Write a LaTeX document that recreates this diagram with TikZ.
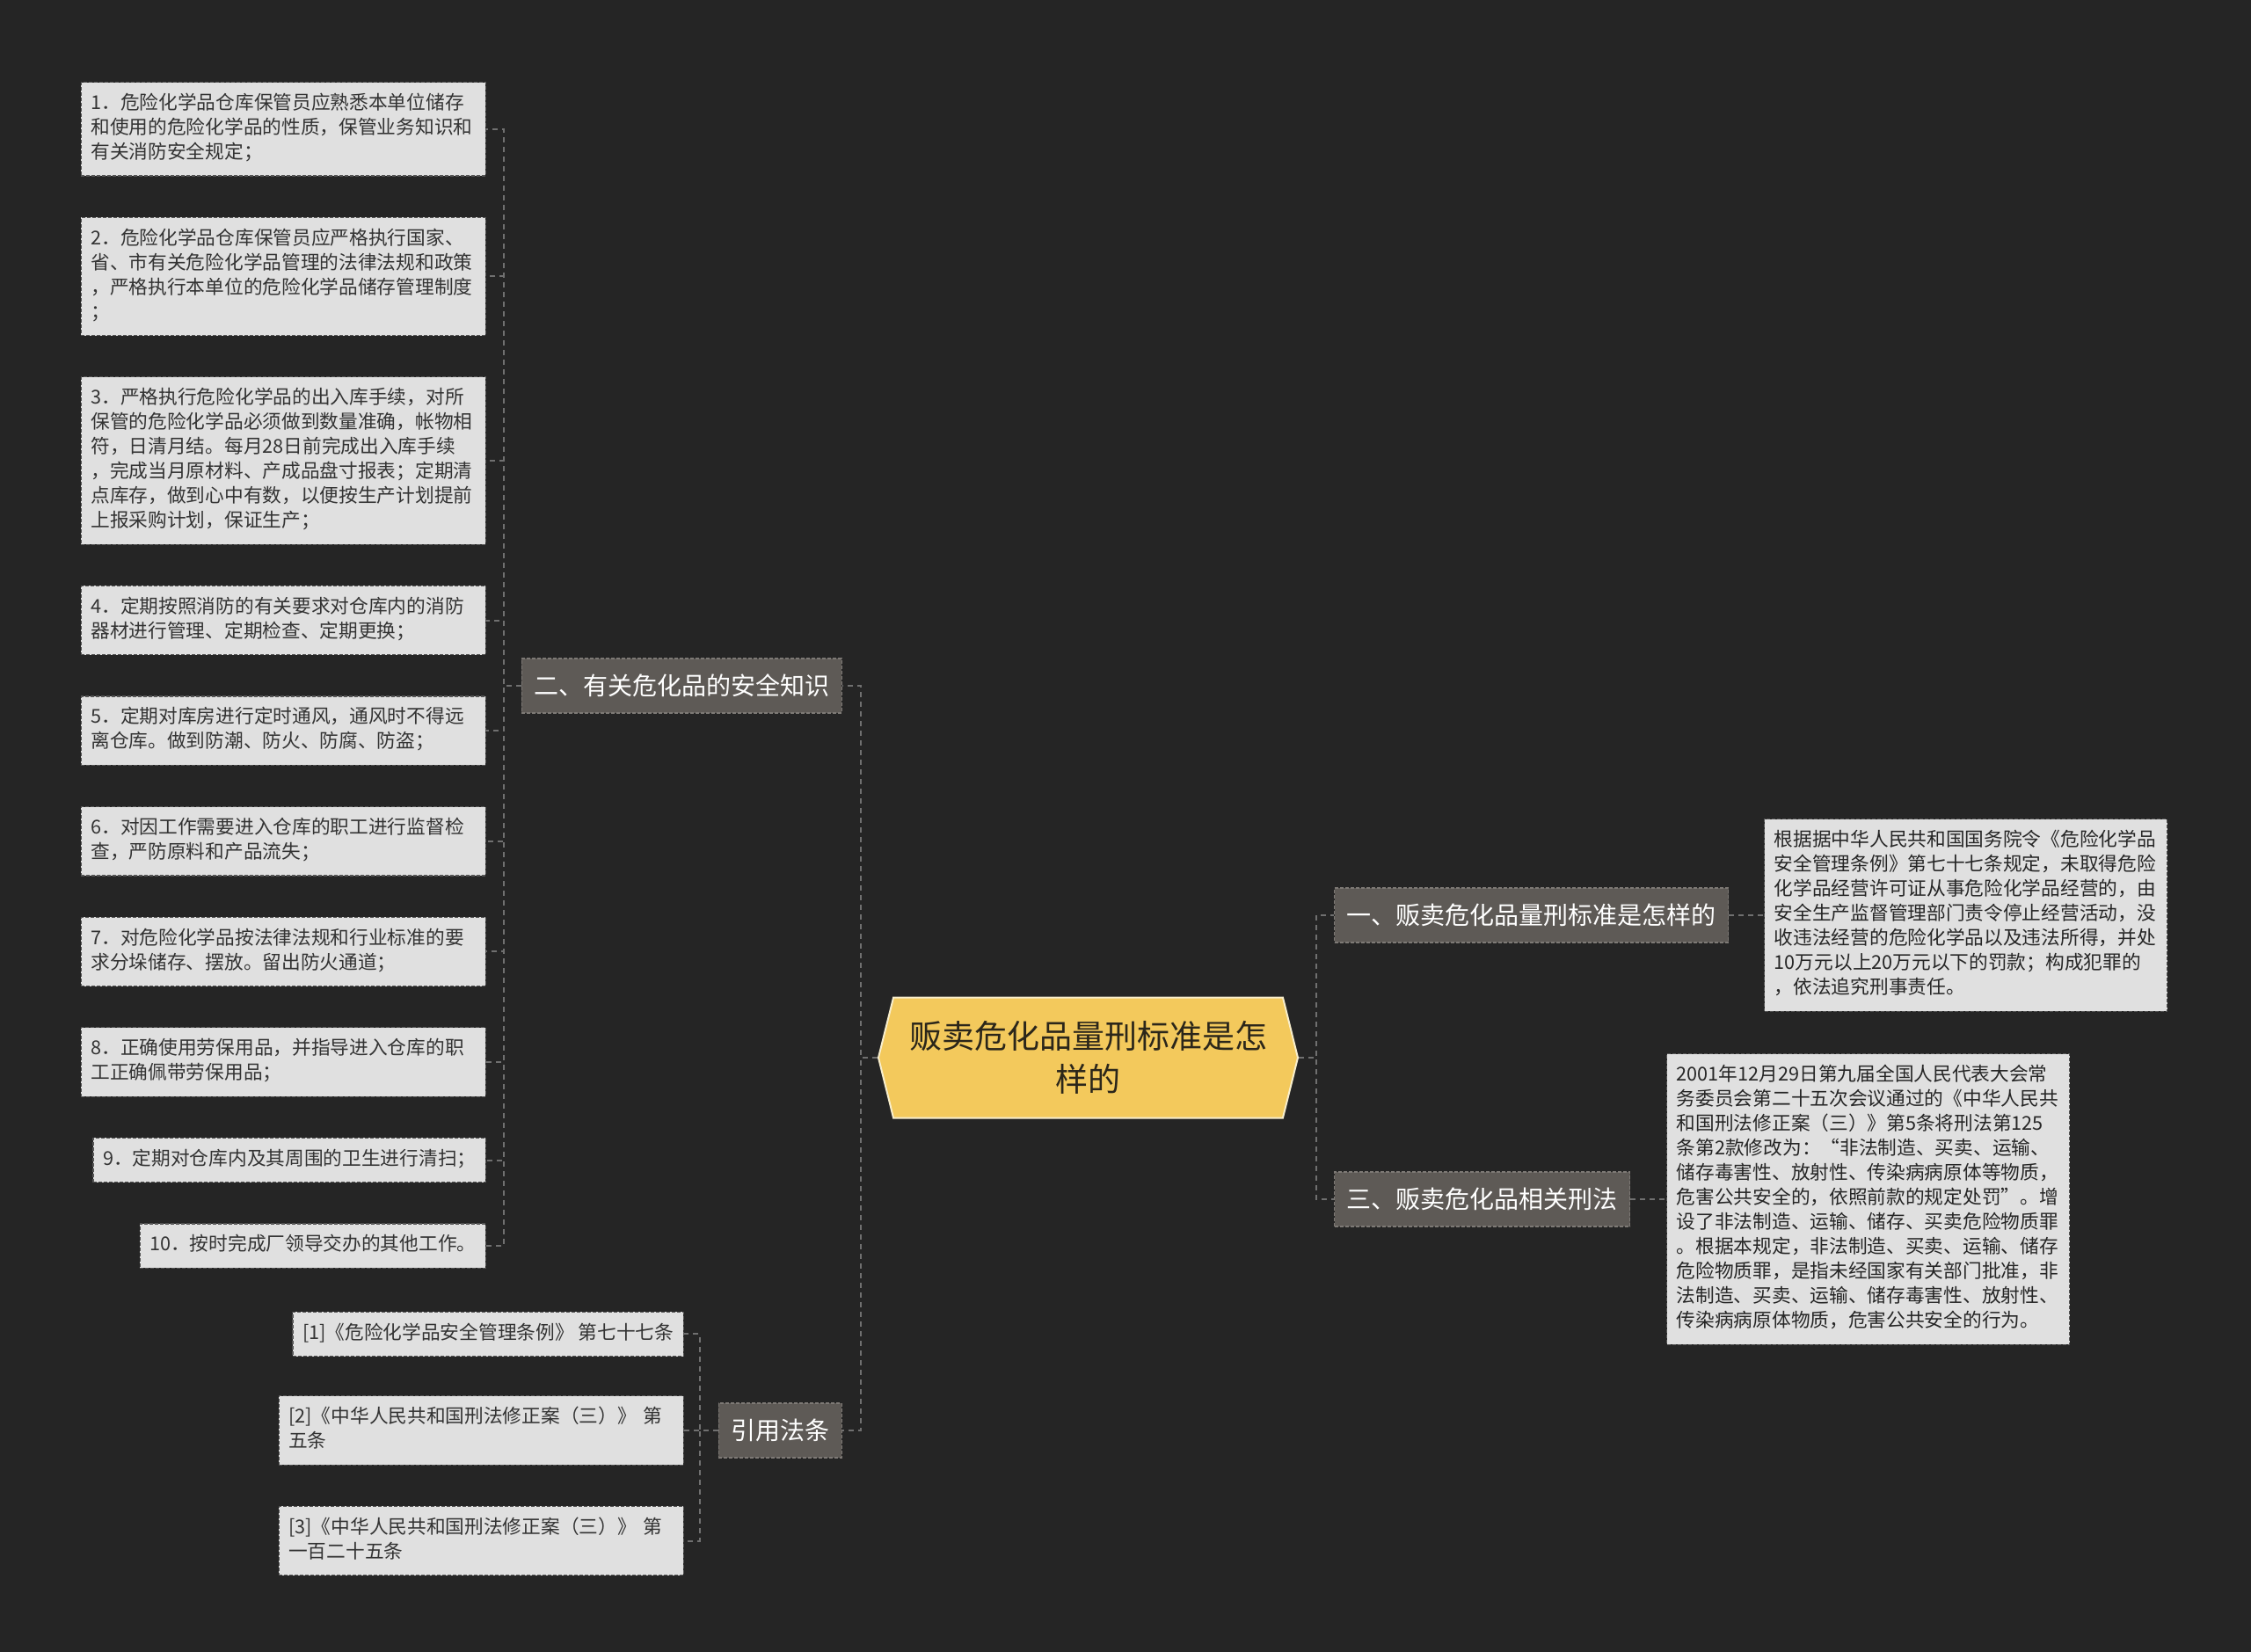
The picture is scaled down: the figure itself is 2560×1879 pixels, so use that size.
\documentclass[tikz,border=0pt]{standalone}
\usepackage{fontspec}
\setmainfont{Noto Sans CJK SC}
\usetikzlibrary{positioning,shapes.symbols}
\definecolor{cBg}{RGB}{37,37,37}
\definecolor{cLeaf}{RGB}{224,224,224}
\definecolor{cLeafEdge}{RGB}{85,85,85}
\definecolor{cLeafTxt}{RGB}{51,51,51}
\definecolor{cBranch}{RGB}{94,90,86}
\definecolor{cBranchEdge}{RGB}{125,121,117}
\definecolor{cHub}{RGB}{243,201,92}
\definecolor{cHubEdge}{RGB}{248,238,204}
\definecolor{cHubTxt}{RGB}{43,38,26}
\definecolor{cLink}{RGB}{112,112,112}
\tikzset{
  hub/.style={
    shape=signal, signal to=east and west, signal pointer angle=152,
    fill=cHub, draw=cHubEdge, line width=1pt,
    text=cHubTxt, align=center, font=\fontsize{18.5}{24.5}\selectfont,
    minimum width=238.5pt, minimum height=68.5pt, inner sep=0pt,
  },
  branch/.style={
    rectangle, fill=cBranch, draw=cBranchEdge, line width=0.6pt,
    dash pattern=on 2pt off 1pt,
    text=white, font=\fontsize{14}{16}\selectfont,
    inner xsep=7pt, inner ysep=0pt, minimum height=31pt,
  },
  leafbase/.style={
    rectangle, fill=cLeaf, draw=cLeafEdge, line width=0.6pt,
    dash pattern=on 2pt off 1pt,
    text=cLeafTxt, align=left, font=\fontsize{10.85}{14}\selectfont,
    inner xsep=5.5pt, inner ysep=5.6pt,
    execute at begin node=\strut, execute at end node=\strut,
  },
  leaf/.style={leafbase, text width=219pt},
  leafs/.style={leafbase},
  note/.style={leafbase, text width=218pt, text=black!85},
  link/.style={draw=cLink, line width=1pt, dash pattern=on 3pt off 2.5pt},
}

\begin{document}
\begin{tikzpicture}[x=0.5pt, y=-0.5pt]

\fill[cBg] (0,0) rectangle (2560,1879);

\node[hub] (topic) at (1237.5,1203) {贩卖危化品量刑标准是怎\\样的};

\node[branch, anchor=east] (safe) at (958,780) {二、有关危化品的安全知识};
\node[branch, anchor=east] (cite) at (958,1627) {引用法条};
\node[branch, anchor=west] (std) at (1517,1041) {一、贩卖危化品量刑标准是怎样的};
\node[branch, anchor=west] (law) at (1517,1364) {三、贩卖危化品相关刑法};

\node[leaf, anchor=north east] (rule1) at (553,93)
  {1．危险化学品仓库保管员应熟悉本单位储存\\和使用的危险化学品的性质，保管业务知识和\\有关消防安全规定；};
\node[leaf, below left=23pt and 0pt of rule1.south east] (rule2)
  {2．危险化学品仓库保管员应严格执行国家、\\省、市有关危险化学品管理的法律法规和政策\\，严格执行本单位的危险化学品储存管理制度\\；};
\node[leaf, below left=23pt and 0pt of rule2.south east] (rule3)
  {3．严格执行危险化学品的出入库手续，对所\\保管的危险化学品必须做到数量准确，帐物相\\符，日清月结。每月28日前完成出入库手续\\，完成当月原材料、产成品盘寸报表；定期清\\点库存，做到心中有数，以便按生产计划提前\\上报采购计划，保证生产；};
\node[leaf, below left=23pt and 0pt of rule3.south east] (rule4)
  {4．定期按照消防的有关要求对仓库内的消防\\器材进行管理、定期检查、定期更换；};
\node[leaf, below left=23pt and 0pt of rule4.south east] (rule5)
  {5．定期对库房进行定时通风，通风时不得远\\离仓库。做到防潮、防火、防腐、防盗；};
\node[leaf, below left=23pt and 0pt of rule5.south east] (rule6)
  {6．对因工作需要进入仓库的职工进行监督检\\查，严防原料和产品流失；};
\node[leaf, below left=23pt and 0pt of rule6.south east] (rule7)
  {7．对危险化学品按法律法规和行业标准的要\\求分垛储存、摆放。留出防火通道；};
\node[leaf, below left=23pt and 0pt of rule7.south east] (rule8)
  {8．正确使用劳保用品，并指导进入仓库的职\\工正确佩带劳保用品；};
\node[leafs, below left=23pt and 0pt of rule8.south east] (rule9)
  {9．定期对仓库内及其周围的卫生进行清扫；};
\node[leafs, below left=23pt and 0pt of rule9.south east] (rule10)
  {10．按时完成厂领导交办的其他工作。};

\node[leaf, left=19.5pt of cite] (ref2)
  {[2]《中华人民共和国刑法修正案（三）》 第\\五条};
\node[leafs, above left=22pt and 0pt of ref2.north east] (ref1)
  {[1]《危险化学品安全管理条例》 第七十七条};
\node[leaf, below left=23pt and 0pt of ref2.south east] (ref3)
  {[3]《中华人民共和国刑法修正案（三）》 第\\一百二十五条};

\node[note, right=20pt of std] (stdtxt)
  {根据据中华人民共和国国务院令《危险化学品\\安全管理条例》第七十七条规定，未取得危险\\化学品经营许可证从事危险化学品经营的，由\\安全生产监督管理部门责令停止经营活动，没\\收违法经营的危险化学品以及违法所得，并处\\10万元以上20万元以下的罚款；构成犯罪的\\，依法追究刑事责任。};
\node[note, right=20.5pt of law] (lawtxt)
  {2001年12月29日第九届全国人民代表大会常\\务委员会第二十五次会议通过的《中华人民共\\和国刑法修正案（三）》第5条将刑法第125\\条第2款修改为：“非法制造、买卖、运输、\\储存毒害性、放射性、传染病病原体等物质，\\危害公共安全的，依照前款的规定处罚”。增\\设了非法制造、运输、储存、买卖危险物质罪\\。根据本规定，非法制造、买卖、运输、储存\\危险物质罪，是指未经国家有关部门批准，非\\法制造、买卖、运输、储存毒害性、放射性、\\传染病病原体物质，危害公共安全的行为。};

\draw[link] (topic.west) -- ++(-9.5pt,0) |- (safe.east);
\draw[link] (topic.west) -- ++(-9.5pt,0) |- (cite.east);
\draw[link] (topic.east) -- ++(10pt,0) |- (std.west);
\draw[link] (topic.east) -- ++(10pt,0) |- (law.west);

\draw[link] (safe.west) -- ++(-10pt,0) |- (rule1.east);
\draw[link] (safe.west) -- ++(-10pt,0) |- (rule2.east);
\draw[link] (safe.west) -- ++(-10pt,0) |- (rule3.east);
\draw[link] (safe.west) -- ++(-10pt,0) |- (rule4.east);
\draw[link] (safe.west) -- ++(-10pt,0) |- (rule5.east);
\draw[link] (safe.west) -- ++(-10pt,0) |- (rule6.east);
\draw[link] (safe.west) -- ++(-10pt,0) |- (rule7.east);
\draw[link] (safe.west) -- ++(-10pt,0) |- (rule8.east);
\draw[link] (safe.west) -- ++(-10pt,0) |- (rule9.east);
\draw[link] (safe.west) -- ++(-10pt,0) |- (rule10.east);

\draw[link] (cite.west) -- ++(-10.5pt,0) |- (ref1.east);
\draw[link] (cite.west) -- ++(-10.5pt,0) |- (ref2.east);
\draw[link] (cite.west) -- ++(-10.5pt,0) |- (ref3.east);

\draw[link] (std.east) -- (stdtxt.west);
\draw[link] (law.east) -- (lawtxt.west);

\end{tikzpicture}
\end{document}
